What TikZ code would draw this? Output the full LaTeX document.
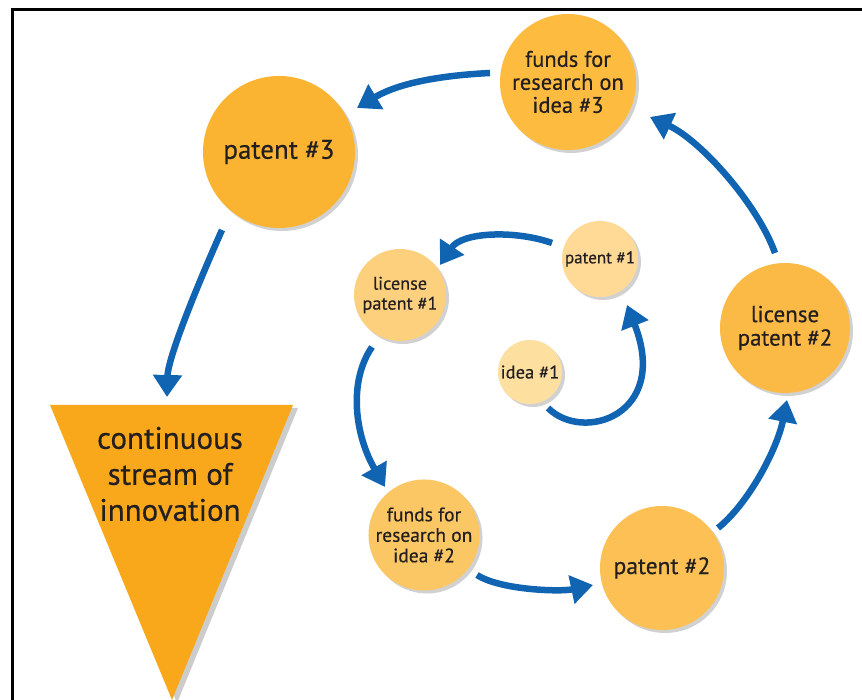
\documentclass[tikz,border=0pt]{standalone}
\usepackage{fontspec}
\setmainfont{PT Sans}[FakeBold=0.4]
\usetikzlibrary{arrows.meta,shadows}
\definecolor{arrowblue}{RGB}{16,100,178}
\definecolor{cfthree}{RGB}{253,187,64}
\definecolor{cpthree}{RGB}{250,180,50}
\definecolor{cltwo}{RGB}{251,186,70}
\definecolor{cptwo}{RGB}{252,192,84}
\definecolor{cftwo}{RGB}{251,199,100}
\definecolor{clone}{RGB}{253,208,126}
\definecolor{cpone}{RGB}{254,218,150}
\definecolor{cione}{RGB}{253,223,160}
\definecolor{ctri}{RGB}{249,168,28}
\definecolor{txt}{RGB}{35,31,32}
\begin{document}
\begin{tikzpicture}[x=1pt,y=1pt,
  bub/.style={circle, inner sep=0pt, align=center, text=txt,
    drop shadow={shadow xshift=3pt, shadow yshift=-3pt, opacity=0.18, fill=black}},
  arr/.style={draw=arrowblue, line width=6.5pt, -{Triangle[width=28pt,length=22pt]}},
  frame/.style={draw=black, line width=3pt}]
\useasboundingbox (0,0) rectangle (862,700);
% frame
\draw[frame] (12,0) -- (12,690) -- (862,690);
% triangle
\fill[black, opacity=0.2] (55,292) -- (298,292) -- (177,-3) -- cycle;
\fill[ctri] (50,295) -- (293,295) -- (172,0) -- cycle;
\node[align=center, text=txt, font=\fontsize{31}{36}\selectfont] (tri) at (170,226) {continuous\\stream of\\innovation};
% bubbles
\node[bub, fill=cfthree, minimum size=136pt, font=\fontsize{22.5}{23}\selectfont] (f3) at (568,618) {funds for\\research on\\idea \#3};
\node[bub, fill=cpthree, minimum size=152pt, font=\fontsize{27}{30}\selectfont] (p3) at (279,548) {patent \#3};
\node[bub, fill=cltwo, minimum size=130pt, font=\fontsize{23}{23.5}\selectfont] (l2) at (785,372) {license\\patent \#2};
\node[bub, fill=cptwo, minimum size=124pt, font=\fontsize{23.5}{26}\selectfont] (p2) at (662,132) {patent \#2};
\node[bub, fill=cftwo, minimum size=104pt, font=\fontsize{19.5}{20.5}\selectfont] (f2) at (424,165) {funds for\\research on\\idea \#2};
\node[bub, fill=clone, minimum size=92pt, font=\fontsize{18.2}{20}\selectfont] (l1) at (400,405) {license\\patent \#1};
\node[bub, fill=cpone, minimum size=76pt, font=\fontsize{17}{19}\selectfont] (p1) at (600,441) {patent \#1};
\node[bub, fill=cione, minimum size=64pt, font=\fontsize{18.5}{20}\selectfont] (i1) at (530,328) {idea \#1};
% connector ends
\coordinate (s1) at (548,292); \coordinate (e1) at (627,395);
\coordinate (s2) at (552,457); \coordinate (e2) at (440,435);
\coordinate (s3) at (372,353); \coordinate (e3) at (385,213);
\coordinate (s4) at (477,125); \coordinate (e4) at (593,115);
\coordinate (s5) at (718,172); \coordinate (e5) at (787,300);
\coordinate (s6) at (775,447); \coordinate (e6) at (650,583);
\coordinate (s7) at (490,627); \coordinate (e7) at (357,592);
\coordinate (s8) at (222,470); \coordinate (e8) at (167,303);
% arrows
\draw[arr] (s1) .. controls (583,257) and (670,285) .. (e1);
\draw[arr] (s2) .. controls (515,470) and (462,468) .. (e2);
\draw[arr] (s3) .. controls (348,318) and (355,265) .. (e3);
\draw[arr] (s4) .. controls (500,110) and (560,108) .. (e4);
\draw[arr] (s5) .. controls (748,196) and (777,250) .. (e5);
\draw[arr] (s6) .. controls (757,497) and (700,560) .. (e6);
\draw[arr] (s7) .. controls (450,625) and (402,619) .. (e7);
\draw[arr] (s8) .. controls (205,432) and (168,345) .. (e8);
\end{tikzpicture}
\end{document}
